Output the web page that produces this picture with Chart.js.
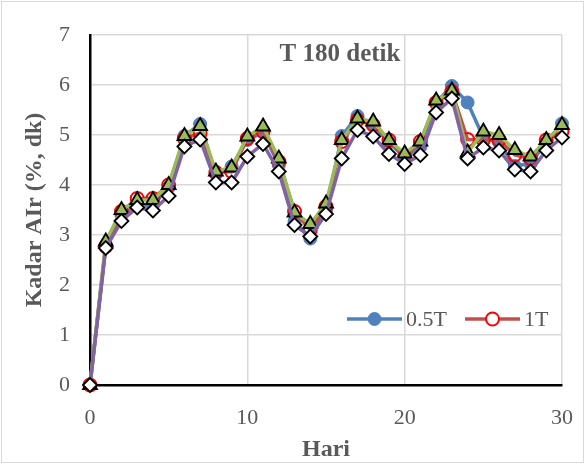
<!DOCTYPE html>
<html>
<head>
<meta charset="utf-8">
<script src="https://cdn.jsdelivr.net/npm/chart.js@4"></script>
<style>
  html, body { margin: 0; padding: 0; background: #fff; }
  #wrap { width: 585px; height: 464px; }
</style>
</head>
<body>
<div id="wrap"><canvas id="chartCanvas" width="585" height="464"></canvas></div>
<script>
// ------- Data -------
const days = [0,1,2,3,4,5,6,7,8,9,10,11,12,13,14,15,16,17,18,19,20,21,22,23,24,25,26,27,28,29,30];
const seriesNames = ["0.5T", "1T", "1.5T", "2T"];
const s05T = [0, 2.8, 3.4, 3.6, 3.6, 3.95, 4.98, 5.22, 4.22, 4.37, 4.9, 5.05, 4.4, 3.27, 2.93, 3.5, 4.98, 5.38, 5.2, 4.85, 4.55, 4.77, 5.65, 5.98, 5.65, 4.95, 4.85, 4.38, 4.43, 4.85, 5.23];
const s1T  = [0, 2.77, 3.47, 3.73, 3.73, 4.0, 4.93, 5.04, 4.25, 4.27, 4.93, 5.07, 4.47, 3.47, 3.1, 3.57, 4.87, 5.3, 5.2, 4.9, 4.57, 4.87, 5.65, 5.87, 4.91, 4.9, 4.9, 4.6, 4.53, 4.9, 5.07];
const s15T = [0, 2.87, 3.5, 3.7, 3.7, 4.0, 4.98, 5.18, 4.27, 4.35, 4.97, 5.17, 4.53, 3.45, 3.22, 3.63, 4.9, 5.33, 5.27, 4.9, 4.63, 4.87, 5.69, 5.89, 4.65, 5.07, 5.0, 4.7, 4.57, 4.9, 5.2];
const s2T  = [0, 2.74, 3.28, 3.55, 3.49, 3.78, 4.77, 4.91, 4.05, 4.05, 4.57, 4.82, 4.27, 3.2, 2.97, 3.42, 4.53, 5.1, 4.97, 4.62, 4.42, 4.6, 5.45, 5.73, 4.53, 4.75, 4.69, 4.31, 4.27, 4.69, 4.95];
const chartTitle = "T 180 detik";
const xTitle = "Hari";
const yTitle = "Kadar AIr (%, dk)";

// ------- Helpers -------
const SERIF = "'Liberation Serif', 'Times New Roman', serif";
const TXT = "#595959";

function toPoints(values) {
  return days.map((d, i) => ({ x: d, y: values[i] }));
}

// frame, in-plot title and legend (only first two entries, as in the original)
const decorPlugin = {
  id: "decor",
  beforeDraw(chart) {
    const ctx = chart.ctx;
    ctx.save();
    ctx.fillStyle = "#fff";
    ctx.fillRect(0, 0, chart.width, chart.height);
    ctx.strokeStyle = "#d9d9d9";
    ctx.lineWidth = 1;
    ctx.strokeRect(1.5, 1.5, chart.width - 3, chart.height - 3);
    ctx.restore();
  },
  afterDraw(chart) {
    const ctx = chart.ctx;
    ctx.save();
    ctx.fillStyle = TXT;
    ctx.font = "bold 25px " + SERIF;
    ctx.textAlign = "center";
    ctx.textBaseline = "middle";
    ctx.fillText(chartTitle, 340, 55);

    const items = chart.data.datasets.slice(0, 2);
    const slots = [{ x0: 347, x1: 402, tx: 406 }, { x0: 465, x1: 520, tx: 524 }];
    const ly = 319;
    items.forEach((ds, i) => {
      const s = slots[i];
      ctx.strokeStyle = ds.borderColor;
      ctx.lineWidth = 3.5;
      ctx.beginPath();
      ctx.moveTo(s.x0, ly);
      ctx.lineTo(s.x1, ly);
      ctx.stroke();
      const cx = (s.x0 + s.x1) / 2;
      ctx.beginPath();
      ctx.arc(cx, ly, 6.5, 0, Math.PI * 2);
      ctx.fillStyle = ds.pointBackgroundColor === "rgba(0,0,0,0)" ? "#fff" : ds.pointBackgroundColor;
      ctx.fill();
      ctx.strokeStyle = ds.pointBorderColor;
      ctx.lineWidth = ds.pointBorderWidth;
      ctx.stroke();
      ctx.fillStyle = TXT;
      ctx.font = "22px " + SERIF;
      ctx.textAlign = "left";
      ctx.textBaseline = "middle";
      ctx.fillText(ds.label, s.tx, ly + 1);
    });
    ctx.restore();
  }
};

// ------- Chart -------
const ctx = document.getElementById("chartCanvas").getContext("2d");
new Chart(ctx, {
  type: "line",
  data: {
    datasets: [
      {
        label: seriesNames[0],
        data: toPoints(s05T),
        borderColor: "#4F81BD",
        borderWidth: 3.5,
        pointStyle: "circle",
        pointRadius: 6.5,
        pointBackgroundColor: "#4F81BD",
        pointBorderColor: "#4F81BD",
        pointBorderWidth: 1,
        order: 4,
      },
      {
        label: seriesNames[1],
        data: toPoints(s1T),
        borderColor: "#C0504D",
        borderWidth: 3.5,
        pointStyle: "circle",
        pointRadius: 6.5,
        pointBackgroundColor: "rgba(0,0,0,0)",
        pointBorderColor: "#FF0000",
        pointBorderWidth: 2,
        order: 3,
      },
      {
        label: seriesNames[2],
        data: toPoints(s15T),
        borderColor: "#9BBB59",
        borderWidth: 3.5,
        pointStyle: "triangle",
        pointRadius: 8,
        pointBackgroundColor: "#9BBB59",
        pointBorderColor: "#000",
        pointBorderWidth: 1.8,
        order: 2,
      },
      {
        label: seriesNames[3],
        data: toPoints(s2T),
        borderColor: "#8064A2",
        borderWidth: 3.5,
        pointStyle: "rectRot",
        pointRadius: 7,
        pointBackgroundColor: "#fff",
        pointBorderColor: "#000",
        pointBorderWidth: 1.8,
        order: 1,
      },
    ],
  },
  options: {
    responsive: false,
    animation: false,
    devicePixelRatio: 1,
    clip: false,
    layout: { padding: { left: 0, top: 35, right: 23, bottom: 0 } },
    plugins: {
      legend: { display: false },
      title: { display: false },
      tooltip: { enabled: false },
    },
    elements: { line: { tension: 0 } },
    scales: {
      x: {
        type: "linear",
        min: 0,
        max: 30,
        ticks: {
          stepSize: 10,
          padding: 20,
          color: TXT,
          font: { family: SERIF, size: 22 },
        },
        grid: { color: "#d9d9d9", lineWidth: 1.5, drawTicks: false },
        border: { color: "#000", width: 2.5 },
        title: {
          display: true,
          text: xTitle,
          color: TXT,
          font: { family: SERIF, size: 24, weight: "bold" },
          padding: { top: 2, bottom: 0 },
        },
        afterFit(scale) {
          scale.height = 79;
          scale.paddingLeft = 0;
          scale.paddingRight = 0;
        },
      },
      y: {
        min: 0,
        max: 7,
        ticks: {
          stepSize: 1,
          padding: 20,
          color: TXT,
          font: { family: SERIF, size: 22 },
        },
        grid: { color: "#d9d9d9", lineWidth: 1.5, drawTicks: false },
        border: { color: "#000", width: 2.5 },
        title: {
          display: true,
          text: yTitle,
          color: TXT,
          font: { family: SERIF, size: 24, weight: "bold" },
          padding: { top: 20, bottom: 0 },
        },
        afterFit(scale) {
          scale.width = 90;
          scale.paddingTop = 0;
          scale.paddingBottom = 0;
        },
      },
    },
  },
  plugins: [decorPlugin],
});
</script>
</body>
</html>
